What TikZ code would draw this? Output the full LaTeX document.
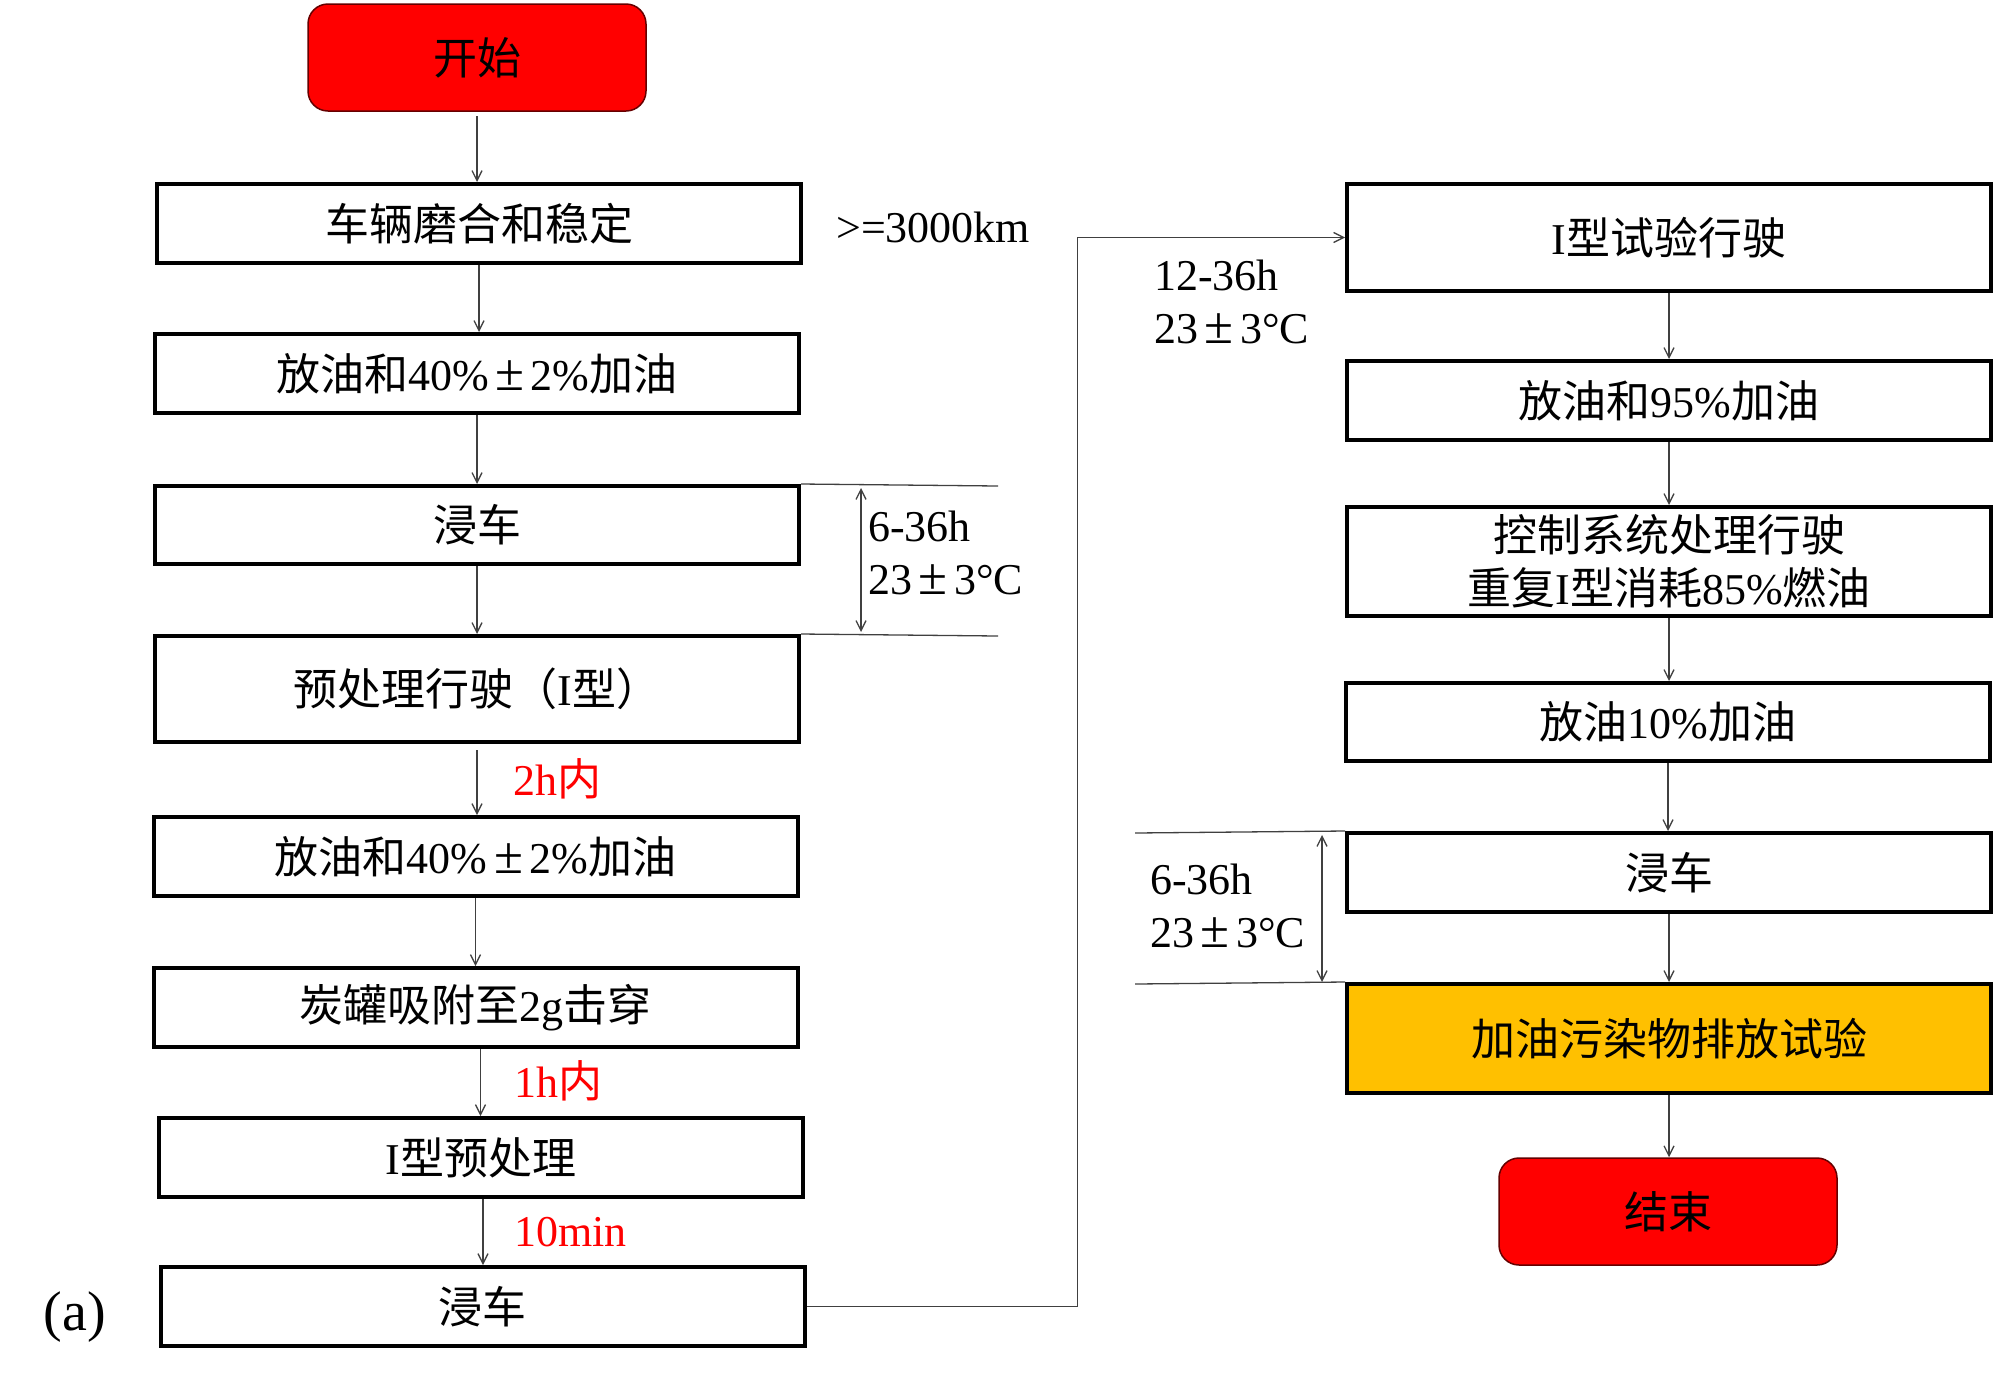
\documentclass[tikz,border=0pt]{standalone}
\usepackage{fontspec}
\usepackage{graphicx}
\setmainfont{Liberation Serif}
\newfontfamily\cjk{Noto Sans CJK SC}
\usetikzlibrary{arrows.meta}
\definecolor{termred}{HTML}{FF0000}
\definecolor{testorange}{HTML}{FFC000}
\definecolor{lblred}{HTML}{FF0000}
\definecolor{connc}{HTML}{404040}
\newcommand{\widepm}{\makebox[0.95em]{\scalebox{1.2}{±}}}
\tikzset{
  bigfont/.style={font=\fontsize{44}{53}\selectfont},
  box/.style={draw=black, line width=4pt, fill=white, inner sep=0pt, bigfont,
              minimum width=644pt, minimum height=79pt, align=center},
  termbox/.style={draw=black!60!red, line width=1.5pt, fill=termred, rounded corners=20pt,
              inner sep=0pt, bigfont, minimum width=338pt, minimum height=107pt},
  note/.style={inner sep=0pt, bigfont, anchor=west, align=left},
  lbl/.style={inner sep=0pt, bigfont, anchor=west, text=lblred},
  conn/.style={draw=connc, line width=1.3pt, -{Straight Barb[length=10pt,width=10pt,line width=1.3pt]}},
  dimarrow/.style={draw=connc, line width=1.3pt, {Straight Barb[length=10pt,width=10pt,line width=1.3pt]}-{Straight Barb[length=10pt,width=10pt,line width=1.3pt]}},
  dimline/.style={draw=connc, line width=1.3pt}
}
\begin{document}
\begin{tikzpicture}[x=1pt,y=-1pt]
\useasboundingbox (0,0) rectangle (1999,1377);
% left column
\node[termbox] (start) at (477,57.5) {\cjk 开始};
\node[box] (b1) at (479,223.5) {\cjk 车辆磨合和稳定};
\node[box] (b2) at (477,373.5) {{\cjk 放油和}40\%\widepm 2\%{\cjk 加油}};
\node[box, minimum height=78pt] (b3) at (477,525) {\cjk 浸车};
\node[box, minimum height=106pt] (b4) at (477,689) {{\cjk 预处理行驶（}I{\cjk 型）}};
\node[box] (b5) at (475.5,856.5) {{\cjk 放油和}40\%\widepm 2\%{\cjk 加油}};
\node[box] (b6) at (475.5,1007.5) {{\cjk 炭罐吸附至}2g{\cjk 击穿}};
\node[box] (b7) at (481,1157.5) {I{\cjk 型预处理}};
\node[box] (b8) at (482.5,1306.5) {\cjk 浸车};
\node[inner sep=0pt, font=\fontsize{56}{60}\selectfont] (lab) at (75,1317) {(a)};
% right column
\node[box, minimum height=107pt] (r1) at (1669,237.5) {I{\cjk 型试验行驶}};
\node[box] (r2) at (1669,400.5) {{\cjk 放油和}95\%{\cjk 加油}};
\node[box, minimum height=109pt] (r3) at (1669,561.5) {{\cjk 控制系统处理行驶}\\{\cjk 重复}I{\cjk 型消耗}85\%{\cjk 燃油}};
\node[box, minimum height=78pt] (r4) at (1668,722) {{\cjk 放油}10\%{\cjk 加油}};
\node[box] (r5) at (1669,872.5) {\cjk 浸车};
\node[box, minimum height=109pt, fill=testorange] (r6) at (1669,1038.5) {\cjk 加油污染物排放试验};
\node[termbox] (end) at (1668,1211.5) {\cjk 结束};
% notes
\node[note] (km) at (836,227) {>=3000km};
\node[note] (soak1) at (868,553) {6-36h\\23\widepm 3°C};
\node[note] (soak2) at (1154,302) {12-36h\\23\widepm 3°C};
\node[note] (soak3) at (1150,906) {6-36h\\23\widepm 3°C};
\node[lbl] (t2h) at (513,779) {2h{\cjk 内}};
\node[lbl] (t1h) at (514,1081) {1h{\cjk 内}};
\node[lbl] (t10) at (514,1232) {10min};
% connectors left
\draw[conn] (start.south |- 0,116) -- (start.south |- b1.north);
\draw[conn] (b1.south) -- (b1.south |- b2.north);
\draw[conn] (b2.south) -- (b2.south |- b3.north);
\draw[conn] (b3.south) -- (b3.south |- b4.north);
\draw[conn] ([yshift=-6pt]b4.south) -- (b4.south |- b5.north);
\draw[conn] (b5.south) -- (b5.south |- b6.north);
\draw[conn] ([xshift=5pt]b6.south) -- ([xshift=5pt]b6.south |- b7.north);
\draw[conn] ([xshift=2pt]b7.south) -- ([xshift=2pt]b7.south |- b8.north);
\draw[conn] (b8.east) -- ++(271,0) |- (r1.west);
% connectors right
\draw[conn] (r1.south) -- (r1.south |- r2.north);
\draw[conn] (r2.south) -- (r2.south |- r3.north);
\draw[conn] (r3.south) -- (r3.south |- r4.north);
\draw[conn] (r4.south) -- (r4.south |- r5.north);
\draw[conn] (r5.south) -- (r5.south |- r6.north);
\draw[conn] (r6.south) -- (r6.south |- end.north);
% dimension marks left
\coordinate (d1a) at (998,486);
\coordinate (d1b) at (998,636);
\draw[dimline] (b3.north east) -- (d1a);
\draw[dimline] (b4.north east) -- (d1b);
\draw[dimarrow] (861,488) -- (861,632);
% dimension marks right
\coordinate (d2a) at (1135,833);
\coordinate (d2b) at (1135,984);
\draw[dimline] (d2a) -- (r5.north west);
\draw[dimline] (d2b) -- (r6.north west);
\draw[dimarrow] (1322,835) -- (1322,982);
\end{tikzpicture}
\end{document}
